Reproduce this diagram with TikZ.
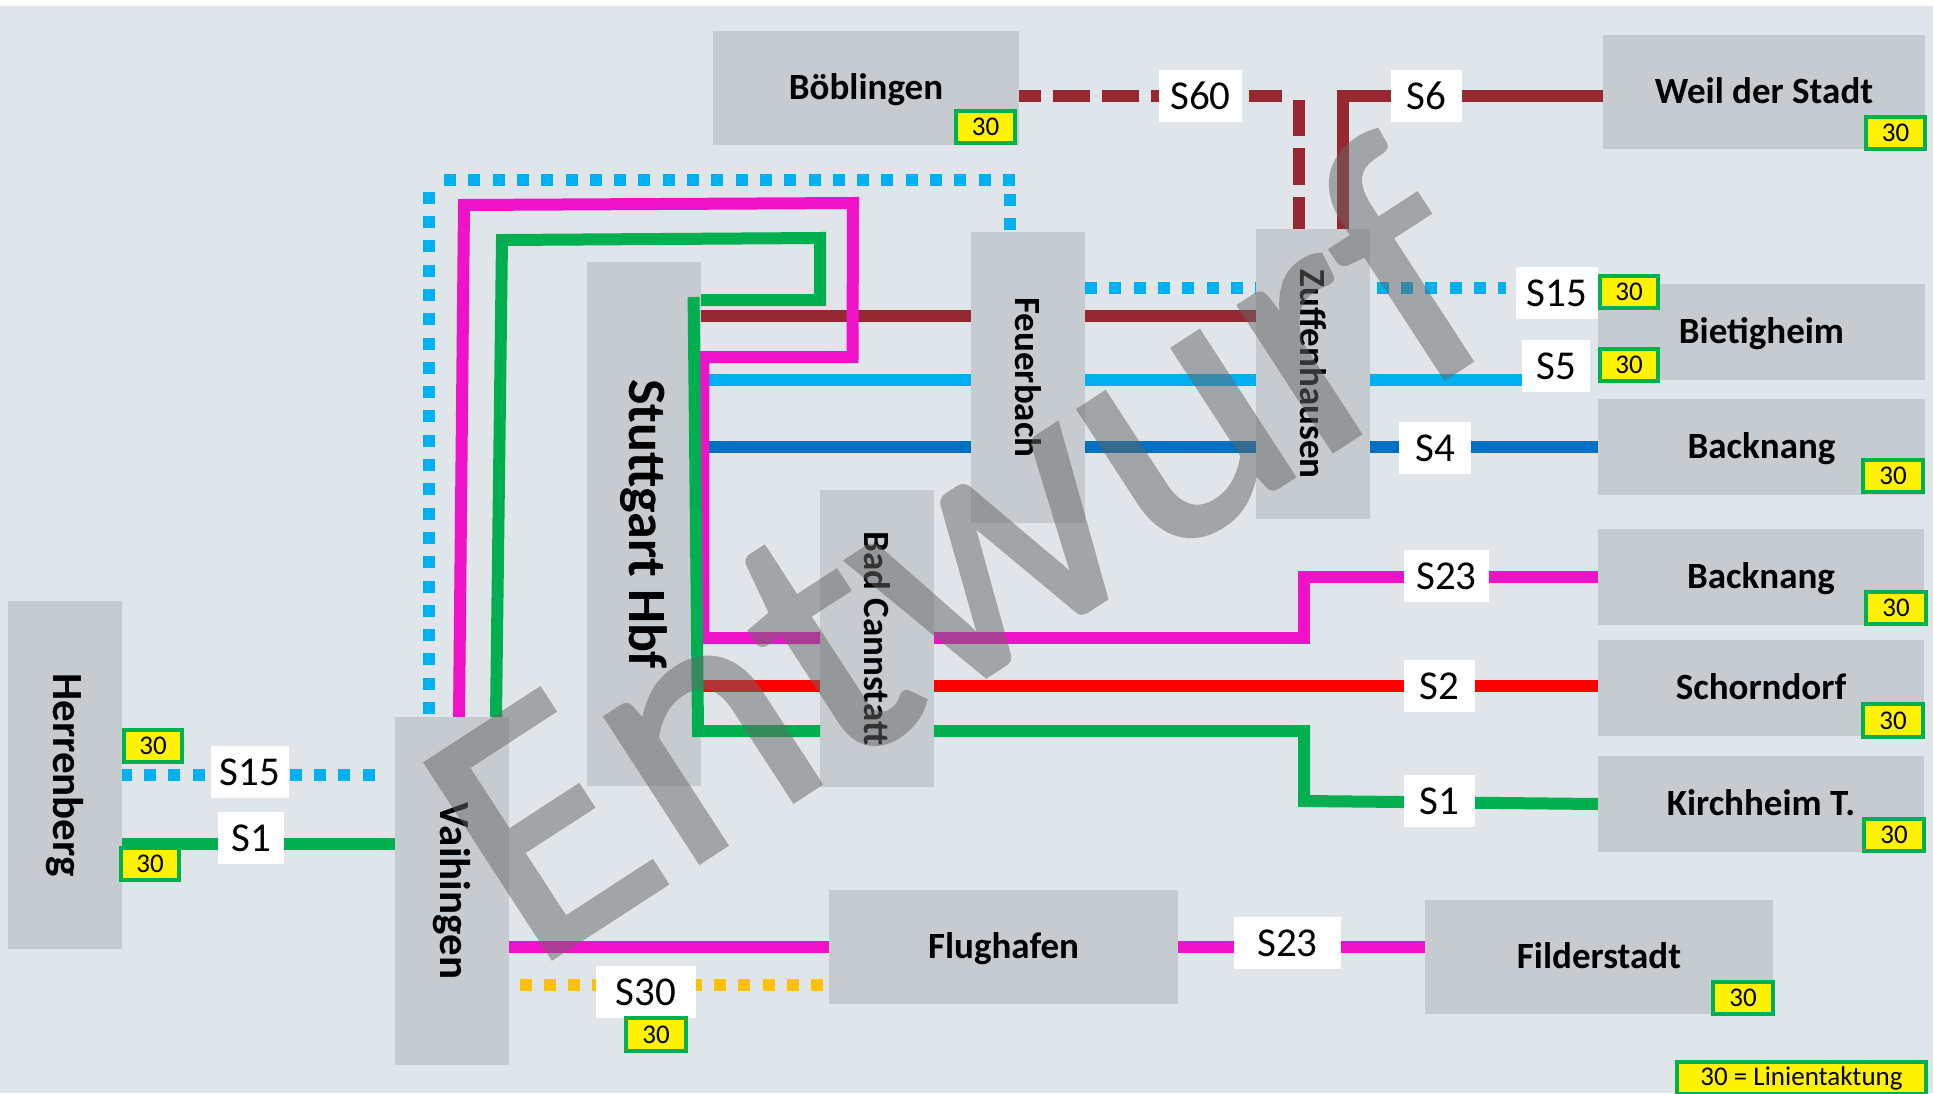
\documentclass[tikz,border=0pt]{standalone}
\usepackage{fontspec}
\usepackage{graphicx}
\setmainfont{Carlito}
\newfontfamily\wmfont[RawFeature={embolden=1.2}]{Carlito}
\usetikzlibrary{calc}
\pgfdeclarelayer{bg}
\pgfdeclarelayer{ln}
\pgfsetlayers{bg,ln,main}
\definecolor{pagebg}{HTML}{E0E5E9}
\definecolor{stbox}{HTML}{C6CBCF}
\definecolor{lmag}{HTML}{F012C8}
\definecolor{lgreen}{HTML}{00B050}
\definecolor{lsky}{HTML}{00B0F0}
\definecolor{lblue}{HTML}{0070C0}
\definecolor{lbrown}{HTML}{962832}
\definecolor{lorange}{HTML}{FFC000}
\tikzset{
  stationbox/.style={fill=stbox,inner sep=0pt,outer sep=0pt,align=center,font=\fontsize{37}{37}\selectfont\bfseries},
  hstation/.style={stationbox,text height=27pt,text depth=3.5pt},
  widestation/.style={stationbox,font=\fontsize{43}{43}\selectfont\bfseries},
  hbfbox/.style={stationbox,font=\fontsize{54}{54}\selectfont\bfseries},
  linelabel/.style={fill=white,inner sep=0pt,outer sep=0pt,font=\fontsize{41}{41}\selectfont},
  takt/.style={fill=yellow,draw=lgreen,line width=4pt,inner sep=0pt,outer sep=0pt,font=\fontsize{27}{27}\selectfont},
  railline/.style={line width=12pt,line cap=butt,line join=miter},
  dotline/.style={railline,dash pattern=on 12pt off 12.3pt},
  dashline/.style={railline,dash pattern=on 37pt off 12pt},
  watermark/.style={text=black!60,font=\fontsize{362}{362}\wmfont\selectfont,inner sep=0pt,rotate=33}
}
\newcommand{\placed}[7][]{%
  \pgfmathsetmacro\cxx{(#3+#5)/2}%
  \pgfmathsetmacro\cyy{(#4+#6)/2}%
  \pgfmathsetmacro\ww{#5-#3}%
  \pgfmathsetmacro\hh{#6-#4}%
  \node[#1,minimum width=\ww pt,minimum height=\hh pt] (#2) at (\cxx,\cyy) {#7};}
\newcommand{\placedtakt}[5]{%
  \pgfmathsetmacro\cxx{(#2+#4)/2}%
  \pgfmathsetmacro\cyy{(#3+#5)/2}%
  \pgfmathsetmacro\ww{#4-#2-4}%
  \pgfmathsetmacro\hh{#5-#3-4}%
  \node[takt,minimum width=\ww pt,minimum height=\hh pt] (#1) at (\cxx,\cyy) {30};}
\newcommand{\dn}[1]{\rotatebox{-90}{#1}}
\begin{document}
\begin{tikzpicture}[x=1pt,y=-1pt]
\useasboundingbox (0,0) rectangle (1933,1093);
\begin{pgfonlayer}{bg}
\fill[white] (0,0) rectangle (1933,1093);
\fill[pagebg] (0,6) rectangle (1933,1093);
\end{pgfonlayer}
% stations
\placed[hstation]{boeb}{713}{31}{1019}{145}{Böblingen}
\placed[hstation]{weil}{1603}{35}{1925}{149}{Weil der Stadt}
\placed[hstation]{biet}{1598}{284}{1925}{380}{Bietigheim}
\placed[hstation]{backa}{1598}{399}{1925}{495}{Backnang}
\placed[hstation]{backb}{1598}{529}{1924}{625}{Backnang}
\placed[hstation]{schorn}{1598}{640}{1924}{736}{Schorndorf}
\placed[hstation]{kirch}{1598}{756}{1924}{852}{Kirchheim T.}
\placed[hstation]{flug}{829}{890}{1178}{1004}{Flughafen}
\placed[hstation]{fild}{1425}{900}{1773}{1014}{Filderstadt}
\placed[widestation]{herr}{8}{601}{122}{949}{\dn{Herrenberg}}
\placed[widestation]{vaih}{395}{717}{509}{1065}{\dn{Vaihingen}}
\placed[hbfbox]{hbf}{587}{262}{701}{786}{\dn{Stuttgart Hbf}}
\placed[stationbox]{feuer}{971}{232}{1085}{523}{\dn{Feuerbach}}
\placed[stationbox]{zuff}{1256}{229}{1370}{519}{\dn{Zuffenhausen}}
\placed[stationbox]{cann}{820}{490}{934}{787}{\dn{Bad Cannstatt}}
% lines below the station boxes
\begin{pgfonlayer}{ln}
\draw[railline,lbrown] (hbf.east |- 0,316) -- (zuff.west |- 0,316);
\draw[railline,lsky] (hbf.east |- 0,380) -- (1530,380);
\draw[railline,lblue] (hbf.east |- 0,447) -- (backa.west |- 0,447);
\draw[railline,red] (hbf.east |- 0,686) -- (schorn.west |- 0,686);
\draw[railline,lbrown] (1343,0 |- zuff.north) -- (1343,96) -- (weil.west |- 0,96);
\draw[dashline,lbrown,dash phase=15] (boeb.east |- 0,96) -- (1282,96);
\draw[dashline,lbrown,dash phase=5] (1299,0 |- zuff.north) -- (1299,100);
\draw[dotline,lsky] (feuer.east |- 0,288) -- (1506,288);
\draw[dotline,lsky] (429,714) -- (429,192);
\draw[dotline,lsky] (444,180) -- (1016,180);
\draw[dotline,lsky] (1010,230) -- (1010,187);
\draw[dotline,lsky,dash phase=2.3] (herr.east |- 0,775) -- (375,775);
\draw[railline,lgreen] (herr.east |- 0,844) -- (vaih.west |- 0,844);
\draw[railline,lmag] (vaih.east |- 0,947) -- (flug.west |- 0,947);
\draw[dotline,lorange] (519.5,985) -- (824,985);
\draw[railline,lmag] (flug.east |- 0,947) -- (fild.west |- 0,947);
\draw[railline,lmag] (cann.east |- 0,638) -- (1304,638) -- (1304,577) -- (backb.west |- 0,577);
\draw[railline,lgreen] (cann.east |- 0,731) -- (1304,731) -- (1304,801) -- (kirch.west |- 0,804);
\end{pgfonlayer}
% lines that run over the Hbf box
\draw[railline,lmag] (459,0 |- vaih.north) -- (464,205) -- (853,203) -- (852.5,357) -- (703.4,357) -- (703.4,638) -- (cann.west |- 0,638);
\draw[railline,lgreen] (496,0 |- vaih.north) -- (502,240) -- (820,238) -- (820,300) -- (hbf.east |- 0,300);
\draw[railline,lgreen] (693.6,297) -- (698,731) -- (cann.west |- 0,731);
% line labels
\placed[linelabel]{ls60}{1159}{70}{1242}{122}{S60}
\placed[linelabel]{ls6}{1391}{70}{1462}{122}{S6}
\placed[linelabel]{ls15r}{1516}{267}{1598}{319}{S15}
\placed[linelabel]{ls5}{1522}{340}{1590}{392}{S5}
\placed[linelabel]{ls4}{1399}{422}{1471}{474}{S4}
\placed[linelabel]{ls23a}{1404}{550}{1489}{602}{S23}
\placed[linelabel]{ls2}{1404}{660}{1475}{712}{S2}
\placed[linelabel]{ls1r}{1404}{775}{1475}{827}{S1}
\placed[linelabel]{ls23b}{1234}{917}{1341}{969}{S23}
\placed[linelabel]{ls15l}{211}{746}{289}{798}{S15}
\placed[linelabel]{ls1l}{218}{812}{284}{864}{S1}
\placed[linelabel]{ls30}{596}{966}{696}{1018}{S30}
% interval tags
\placedtakt{tboeb}{954}{109}{1017}{145}
\placedtakt{tweil}{1864}{115}{1927}{151}
\placedtakt{tbieta}{1598}{274}{1660}{310}
\placedtakt{tbietb}{1598}{347}{1660}{383}
\placedtakt{tbacka}{1861}{458}{1925}{494}
\placedtakt{tbackb}{1864}{590}{1928}{626}
\placedtakt{tschorn}{1861}{702}{1925}{739}
\placedtakt{tkirch}{1862}{817}{1926}{853}
\placedtakt{tfild}{1711}{980}{1775}{1016}
\placedtakt{therra}{122}{728}{184}{764}
\placedtakt{therrb}{119}{846}{181}{882}
\placedtakt{tvaih}{624}{1016}{688}{1053}
\node[takt,minimum width=249pt,minimum height=32pt] (legend) at (1801.5,1078) {30 = Linientaktung};
% watermark
\begin{scope}[transparency group,opacity=0.5]
\node[watermark] (wm) at (955,550) {Entwurf};
\end{scope}
\end{tikzpicture}
\end{document}
